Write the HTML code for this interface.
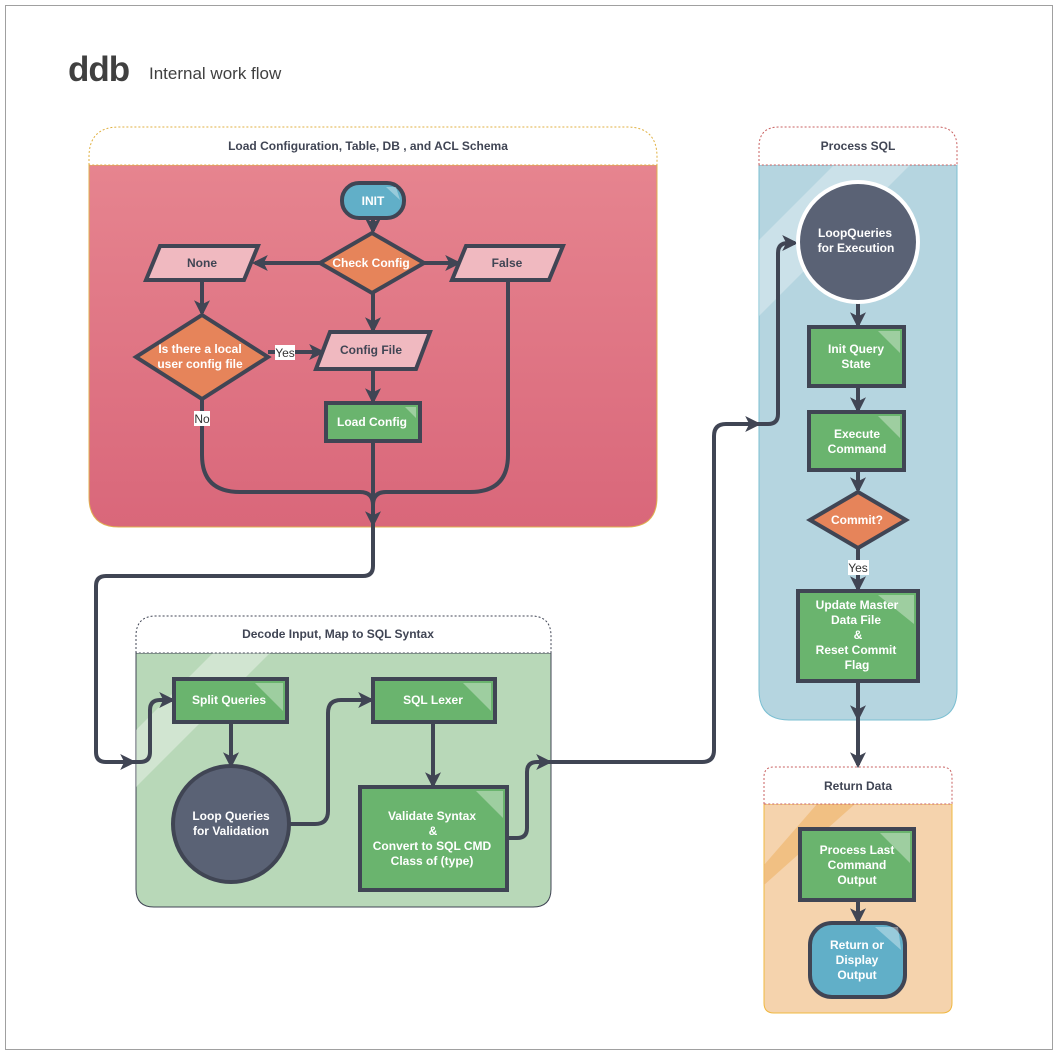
<!DOCTYPE html>
<html><head><meta charset="utf-8"><style>
html,body{margin:0;padding:0;background:#fff}
svg{display:block}
text{font-family:"Liberation Sans",Arial,sans-serif;font-weight:bold}
</style></head><body>
<svg width="1059" height="1056" viewBox="0 0 1059 1056" xmlns="http://www.w3.org/2000/svg">
<defs>
<linearGradient id="rg" x1="0" y1="0" x2="0" y2="1"><stop offset="0" stop-color="#e6848f"/><stop offset="1" stop-color="#d9677a"/></linearGradient>
<marker id="ar" markerWidth="4" markerHeight="4" refX="3.2" refY="2" orient="auto" markerUnits="strokeWidth"><path d="M0,0 L4,2 L0,4 L1,2 Z" fill="#404554"/></marker>
<clipPath id="cb"><path d="M759,165 H957 V690 Q957,720 927,720 H789 Q759,720 759,690 Z"/></clipPath>
<clipPath id="cg"><path d="M136,653 H551 V889 Q551,907 533,907 H154 Q136,907 136,889 Z"/></clipPath>
<clipPath id="co"><path d="M764,804 H952 V1003 Q952,1013 942,1013 H774 Q764,1013 764,1003 Z"/></clipPath>
</defs>
<rect x="5.5" y="5.5" width="1047" height="1044" fill="#fff" stroke="#a0a0a0"/>
<text x="68" y="81" font-size="35" fill="#404040" letter-spacing="-1">ddb</text>
<text x="149" y="79" font-size="17" fill="#404040" style="font-weight:normal">Internal work flow</text>

<!-- Red container -->
<path d="M89,165 V497 Q89,527 119,527 H627 Q657,527 657,497 V165 Z" fill="url(#rg)" stroke="#e0b050" stroke-width="1"/>
<path d="M89,165 V157 Q89,127 119,127 H627 Q657,127 657,157 V165 Z" fill="#fff" stroke="#e0b040" stroke-dasharray="2,2"/>
<text x="368" y="150" font-size="12" fill="#404554" text-anchor="middle">Load Configuration, Table, DB , and ACL Schema</text>

<!-- Blue container -->
<path d="M759,165 V690 Q759,720 789,720 H927 Q957,720 957,690 V165 Z" fill="#b5d5e0" stroke="#7bbfd2"/>
<g clip-path="url(#cb)"><polygon points="759,240 834,165 910,165 759,316" fill="#fff" opacity="0.3"/></g>
<path d="M759,165 V147 Q759,127 779,127 H937 Q957,127 957,147 V165 Z" fill="#fff" stroke="#c86060" stroke-dasharray="2,2"/>
<text x="858" y="150" font-size="12" fill="#404554" text-anchor="middle">Process SQL</text>

<!-- Green container -->
<path d="M136,653 V889 Q136,907 154,907 H533 Q551,907 551,889 V653 Z" fill="#b8d8b8" stroke="#404554"/>
<g clip-path="url(#cg)"><polygon points="136,730 213,653 270,653 136,787" fill="#fff" opacity="0.35"/></g>
<path d="M136,653 V636 Q136,616 156,616 H531 Q551,616 551,636 V653 Z" fill="#fff" stroke="#404554" stroke-dasharray="2,2"/>
<text x="338" y="638" font-size="12" fill="#404554" text-anchor="middle">Decode Input, Map to SQL Syntax</text>

<!-- Orange container -->
<path d="M764,804 V1003 Q764,1013 774,1013 H942 Q952,1013 952,1003 V804 Z" fill="#f5d3ad" stroke="#f0b840"/>
<g clip-path="url(#co)"><polygon points="764,865 817,804 855,804 764,885" fill="#f0b870" opacity="0.7"/></g>
<path d="M764,804 V777 Q764,767 774,767 H942 Q952,767 952,777 V804 Z" fill="#fff" stroke="#c86060" stroke-dasharray="2,2"/>
<text x="858" y="790" font-size="12" fill="#404554" text-anchor="middle">Return Data</text>

<!-- Connectors -->
<g fill="none" stroke="#404554" stroke-width="4">
<path d="M373,218 V231" marker-end="url(#ar)"/>
<path d="M322,263 H255" marker-end="url(#ar)"/>
<path d="M424,263 H458" marker-end="url(#ar)"/>
<path d="M373,293 V330" marker-end="url(#ar)"/>
<path d="M202,280 V313" marker-end="url(#ar)"/>
<path d="M268,352 H322" marker-end="url(#ar)"/>
<path d="M373,369 V401" marker-end="url(#ar)"/>
<path d="M202,399 V455 Q202,492 240,492 H360 Q373,492 373,505"/>
<path d="M508,280 V455 Q508,492 470,492 H386 Q373,492 373,505"/>
<path d="M373,441 V524" marker-end="url(#ar)"/>
<path d="M373,524 V566 Q373,576 363,576 H106 Q96,576 96,586 V752 Q96,762 106,762 H133" marker-end="url(#ar)"/>
<path d="M133,762 H140 Q150,762 150,752 V710 Q150,700 160,700 H172" marker-end="url(#ar)"/>
<path d="M231,722 V765" marker-end="url(#ar)"/>
<path d="M290,824 H315 Q328,824 328,811 V713 Q328,700 341,700 H371" marker-end="url(#ar)"/>
<path d="M433,722 V785" marker-end="url(#ar)"/>
<path d="M507,838 H517 Q527,838 527,828 V772 Q527,762 537,762 H549" marker-end="url(#ar)"/>
<path d="M549,762 H702 Q714,762 714,750 V436 Q714,424 726,424 H758" marker-end="url(#ar)"/>
<path d="M758,424 H768 Q778,424 778,414 V253 Q778,243 788,243 H795" marker-end="url(#ar)"/>
<path d="M858,302 V325" marker-end="url(#ar)"/>
<path d="M858,386 V410" marker-end="url(#ar)"/>
<path d="M858,470 V490" marker-end="url(#ar)"/>
<path d="M858,548 V589" marker-end="url(#ar)"/>
<path d="M858,681 V718" marker-end="url(#ar)"/>
<path d="M858,718 V765" marker-end="url(#ar)"/>
<path d="M858,900 V921" marker-end="url(#ar)"/>
</g>

<!-- Nodes -->
<g stroke="#404554" stroke-width="4">
<rect x="342" y="183" width="62" height="35" rx="17" fill="#61afc8"/>
<polygon points="372,233 424,263 372,293 320,263" fill="#e6845a"/>
<polygon points="160,246 258,246 244,280 146,280" fill="#f0b9c0"/>
<polygon points="466,246 563,246 549,280 452,280" fill="#f0b9c0"/>
<polygon points="202,315 268,357 202,399 136,357" fill="#e6845a"/>
<polygon points="330,332 430,332 416,369 316,369" fill="#f0b9c0"/>
<rect x="326" y="403" width="94" height="38" fill="#6ab46e"/>
<rect x="174" y="679" width="113" height="43" fill="#6ab46e"/>
<circle cx="231" cy="824" r="58" fill="#5a6275"/>
<rect x="373" y="679" width="122" height="43" fill="#6ab46e"/>
<rect x="360" y="787" width="147" height="103" fill="#6ab46e"/>
<rect x="809" y="327" width="95" height="59" fill="#6ab46e"/>
<rect x="809" y="412" width="95" height="58" fill="#6ab46e"/>
<polygon points="858,492 906,520 858,548 810,520" fill="#e6845a"/>
<rect x="798" y="591" width="120" height="90" fill="#6ab46e"/>
<rect x="800" y="829" width="114" height="71" fill="#6ab46e"/>
<rect x="810" y="923" width="95" height="74" rx="22" fill="#61afc8"/>
</g>
<circle cx="858" cy="242" r="60" fill="#5a6275" stroke="#fff" stroke-width="4"/>
<!-- corner shines -->
<g fill="#fff" opacity="0.35">
<polygon points="405,407 416,407 416,418"/>
<polygon points="255,683 283,683 283,711"/>
<polygon points="463,683 491,683 491,711"/>
<polygon points="476,791 503,791 503,818"/>
<polygon points="878,331 900,331 900,353"/>
<polygon points="878,416 900,416 900,438"/>
<polygon points="878,595 914,595 914,624"/>
<polygon points="880,833 910,833 910,863"/>
<polygon points="875,927 898,927 901,950"/>
<polygon points="386,187 396,187 400,200"/>
</g>

<!-- Labels -->
<g font-size="12" text-anchor="middle">
<text x="373" y="205" fill="#fff">INIT</text>
<text x="371" y="267" fill="#fff">Check Config</text>
<text x="202" y="267" fill="#404554">None</text>
<text x="507" y="267" fill="#404554">False</text>
<text x="200" y="353" fill="#fff">Is there a local</text>
<text x="200" y="368" fill="#fff">user config file</text>
<text x="371" y="354" fill="#404554">Config File</text>
<text x="372" y="426" fill="#fff">Load Config</text>
<text x="229" y="704" fill="#fff">Split Queries</text>
<text x="231" y="820" fill="#fff">Loop Queries</text>
<text x="231" y="835" fill="#fff">for Validation</text>
<text x="433" y="704" fill="#fff">SQL Lexer</text>
<text x="432" y="820" fill="#fff">Validate Syntax</text>
<text x="433" y="835" fill="#fff">&amp;</text>
<text x="432" y="850" fill="#fff">Convert to SQL CMD</text>
<text x="432" y="865" fill="#fff">Class of (type)</text>
<text x="855" y="237" fill="#fff">LoopQueries</text>
<text x="856" y="252" fill="#fff">for Execution</text>
<text x="856" y="353" fill="#fff">Init Query</text>
<text x="856" y="368" fill="#fff">State</text>
<text x="857" y="438" fill="#fff">Execute</text>
<text x="857" y="453" fill="#fff">Command</text>
<text x="857" y="524" fill="#fff">Commit?</text>
<text x="857" y="609" fill="#fff">Update Master</text>
<text x="856" y="624" fill="#fff">Data File</text>
<text x="858" y="639" fill="#fff">&amp;</text>
<text x="856" y="654" fill="#fff">Reset Commit</text>
<text x="857" y="669" fill="#fff">Flag</text>
<text x="857" y="854" fill="#fff">Process Last</text>
<text x="857" y="869" fill="#fff">Command</text>
<text x="857" y="884" fill="#fff">Output</text>
<text x="857" y="949" fill="#fff">Return or</text>
<text x="857" y="964" fill="#fff">Display</text>
<text x="857" y="979" fill="#fff">Output</text>
</g>
<g font-size="12" text-anchor="middle">
<rect x="275" y="345" width="20" height="15" fill="#fff"/>
<text x="285" y="357" fill="#333" style="font-weight:normal">Yes</text>
<rect x="194" y="411" width="16" height="15" fill="#fff"/>
<text x="202" y="423" fill="#333" style="font-weight:normal">No</text>
<rect x="848" y="560" width="21" height="15" fill="#fff"/>
<text x="858" y="572" fill="#333" style="font-weight:normal">Yes</text>
</g>
</svg>
</body></html>
